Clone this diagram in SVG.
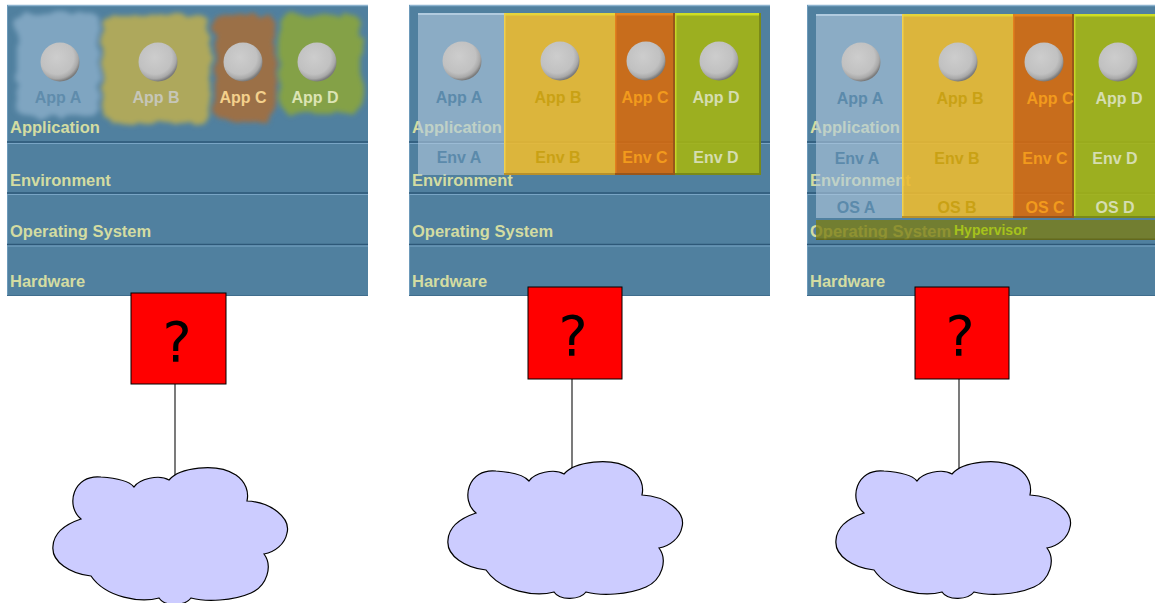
<svg xmlns="http://www.w3.org/2000/svg" xmlns:xlink="http://www.w3.org/1999/xlink" width="1155" height="603" viewBox="0 0 1155 603">
  <style>
    .layer-label { font-family: "Liberation Sans", Arial, sans-serif; font-weight: bold; font-size: 16.5px; fill: #d3dca2; }
    .app { font-family: "Liberation Sans", Arial, sans-serif; font-weight: bold; font-size: 16px; text-anchor: middle; }
    .hv { font-family: "Liberation Sans", Arial, sans-serif; font-weight: bold; font-size: 14px; fill: #a6c21c; }
    .qmark { font-family: "DejaVu Sans", sans-serif; font-weight: normal; font-size: 55px; text-anchor: middle; fill: #000; }
    .qbox { fill: #ff0000; stroke: #000; stroke-width: 1; }
    .cloud { fill: #ccccff; stroke: #000; stroke-width: 1.2; }
    .link { stroke: #222; stroke-width: 1.2; fill: none; }
    .tA { fill: #5b8aab; }
    .tB { fill: #c9a114; }
    .tC { fill: #f29a1c; }
    .tD { fill: #d5ddb0; }
    .colA { fill: #b3cadf; opacity: 0.6; }
    .colB { fill: #ebba31; opacity: 0.9; }
    .colC { fill: #d56a0d; opacity: 0.9; }
    .colD { fill: #a4b412; opacity: 0.9; }
  </style>
  <defs>
    <radialGradient id="knob" cx="0.42" cy="0.38" r="0.62">
      <stop offset="0" stop-color="#cdcdcd"/>
      <stop offset="0.7" stop-color="#c1c1c1"/>
      <stop offset="0.88" stop-color="#a9a9a9"/>
      <stop offset="1" stop-color="#7a7a7a"/>
    </radialGradient>
    <filter id="smudge" x="-20%" y="-20%" width="140%" height="140%">
      <feTurbulence type="fractalNoise" baseFrequency="0.06" numOctaves="2" seed="3" result="n"/>
      <feDisplacementMap in="SourceGraphic" in2="n" scale="12" xChannelSelector="R" yChannelSelector="G" result="d"/>
      <feGaussianBlur in="d" stdDeviation="2.5"/>
    </filter>
    <clipPath id="clip-s3-c"><rect x="1013" y="14" width="61" height="204"/></clipPath>
    <!-- four-layer stack: application / environment / OS / hardware -->
    <g id="stack">
      <rect x="0" y="5" width="361" height="291" fill="#50809f"/>
      <line x1="0" y1="5.5" x2="361" y2="5.5" stroke="#8db3cf" stroke-width="1.5"/>
      <line x1="0.5" y1="5" x2="0.5" y2="296" stroke="#6d9aba" stroke-width="1"/>
      <line x1="0" y1="142" x2="361" y2="142" stroke="#2d5878" stroke-width="1.6"/>
      <line x1="0" y1="143.5" x2="361" y2="143.5" stroke="#79a5c5" stroke-width="1"/>
      <line x1="0" y1="193" x2="361" y2="193" stroke="#2d5878" stroke-width="1.6"/>
      <line x1="0" y1="194.5" x2="361" y2="194.5" stroke="#79a5c5" stroke-width="1"/>
      <line x1="0" y1="244.5" x2="361" y2="244.5" stroke="#2d5878" stroke-width="1.6"/>
      <line x1="0" y1="246" x2="361" y2="246" stroke="#79a5c5" stroke-width="1"/>
      <line x1="0" y1="295.5" x2="361" y2="295.5" stroke="#3f6d8d" stroke-width="1"/>
      <text class="layer-label" x="3" y="133">Application</text>
      <text class="layer-label" x="3" y="186">Environment</text>
      <text class="layer-label" x="3" y="237">Operating System</text>
      <text class="layer-label" x="3" y="287">Hardware</text>
    </g>
    <circle id="app-knob" r="19.5" fill="url(#knob)"/>
    <path id="cloud-shape" d="M 30 53 C 14 40, 22 8, 50 11 C 66 12, 78 15, 83 21 C 88 13, 108 8, 118 14 C 128 2, 165 -4, 185 9 C 195 16, 198 26, 196 35 C 220 36, 240 52, 236 67 C 234 78, 224 86, 213 88 C 222 100, 216 120, 200 127 C 182 135, 155 136, 140 132 C 134 140, 114 141, 108 132 C 90 137, 55 132, 40 110 C 20 108, 0 96, 2 80 C 3 65, 18 57, 30 53 Z"/>
  </defs>

  <rect width="1155" height="603" fill="#ffffff"/>

  <!-- connectors: box to network cloud -->
  <g id="connectors">
    <line class="link" x1="175" y1="384" x2="175" y2="479"/>
    <line class="link" x1="572" y1="379" x2="572" y2="473"/>
    <line class="link" x1="959" y1="379" x2="959" y2="473" stroke="#777"/>
  </g>

  <!-- ===== Stack 1: shared environment ===== -->
  <g id="stack-1">
    <use xlink:href="#stack" x="7"/>
    <g filter="url(#smudge)">
      <rect x="17" y="13" width="82" height="103" rx="10" fill="#7fa5c1"/>
      <rect x="103" y="15" width="107" height="108" rx="12" fill="#aea85c"/>
      <rect x="215" y="15" width="60" height="106" rx="10" fill="#9b7047"/>
      <rect x="279" y="15" width="83" height="98" rx="12" fill="#84a146"/>
    </g>
    <g id="s1-app-a"><use xlink:href="#app-knob" x="60" y="62"/><text class="app" x="58" y="103" fill="#5f8cac">App A</text></g>
    <g id="s1-app-b"><use xlink:href="#app-knob" x="158" y="62"/><text class="app" x="156" y="103" fill="#c6c6b8">App B</text></g>
    <g id="s1-app-c"><use xlink:href="#app-knob" x="243" y="62"/><text class="app" x="243" y="103" fill="#f4d08c">App C</text></g>
    <g id="s1-app-d"><use xlink:href="#app-knob" x="317" y="62"/><text class="app" x="315" y="103" fill="#dce4b4">App D</text></g>
  </g>
  <g id="box-1">
    <rect class="qbox" x="131" y="293" width="95" height="91"/>
    <text class="qmark" x="177" y="361">?</text>
  </g>
  <g id="cloud-1"><use xlink:href="#cloud-shape" class="cloud" x="51" y="466"/></g>

  <!-- ===== Stack 2: per-app environments ===== -->
  <g id="stack-2">
    <use xlink:href="#stack" x="409"/>
    <g id="s2-col-a">
      <rect class="colA" x="418" y="13" width="86" height="162"/>
      <rect x="418" y="13" width="86" height="2" fill="#c2d8ea" opacity="0.7"/>
      <use xlink:href="#app-knob" x="462" y="61"/>
      <text class="app tA" x="459" y="103">App A</text>
      <text class="app tA" x="459" y="163">Env A</text>
    </g>
    <g id="s2-col-b">
      <rect class="colB" x="504" y="13" width="111" height="162"/>
      <rect x="504" y="13" width="111" height="2.5" fill="#e6d43a"/>
      <rect x="504" y="13" width="1.5" height="162" fill="#f0d050"/>
      <rect x="504" y="173" width="111" height="2" fill="#b8902a"/>
      <use xlink:href="#app-knob" x="560" y="61"/>
      <text class="app tB" x="558" y="103">App B</text>
      <text class="app tB" x="558" y="163">Env B</text>
    </g>
    <g id="s2-col-c">
      <rect class="colC" x="615" y="13" width="60" height="162"/>
      <rect x="615" y="13" width="60" height="2.5" fill="#e48420"/>
      <rect x="615" y="13" width="1.5" height="162" fill="#e2801e"/>
      <rect x="673" y="13" width="2" height="162" fill="#98561a"/>
      <rect x="615" y="173" width="60" height="2" fill="#9a561a"/>
      <use xlink:href="#app-knob" x="646" y="61"/>
      <text class="app tC" x="645" y="103">App C</text>
      <text class="app tC" x="645" y="163">Env C</text>
    </g>
    <g id="s2-col-d">
      <rect class="colD" x="675" y="13" width="86" height="162"/>
      <rect x="675" y="13" width="86" height="2.5" fill="#cede24"/>
      <rect x="675" y="13" width="1.5" height="162" fill="#c6d628"/>
      <rect x="759" y="13" width="2" height="162" fill="#7a8a18"/>
      <rect x="675" y="173" width="86" height="2" fill="#7a8a18"/>
      <use xlink:href="#app-knob" x="719" y="61"/>
      <text class="app tD" x="716" y="103">App D</text>
      <text class="app tD" x="716" y="163">Env D</text>
    </g>
  </g>
  <g id="box-2">
    <rect class="qbox" x="528" y="287" width="94" height="92"/>
    <text class="qmark" x="573" y="355">?</text>
  </g>
  <g id="cloud-2"><use xlink:href="#cloud-shape" class="cloud" x="446" y="460"/></g>

  <!-- ===== Stack 3: virtual machines on a hypervisor ===== -->
  <g id="stack-3">
    <use xlink:href="#stack" x="807"/>
    <g id="s3-col-a">
      <rect class="colA" x="816" y="14" width="86" height="204"/>
      <rect x="816" y="14" width="86" height="2" fill="#c2d8ea" opacity="0.7"/>
      <use xlink:href="#app-knob" x="861" y="62"/>
      <text class="app tA" x="860" y="104">App A</text>
      <text class="app tA" x="857" y="164">Env A</text>
      <text class="app tA" x="856" y="213">OS A</text>
    </g>
    <g id="s3-col-b">
      <rect class="colB" x="902" y="14" width="111" height="204" opacity="0.86"/>
      <rect x="902" y="14" width="111" height="2.5" fill="#e6d43a"/>
      <rect x="902" y="14" width="1.5" height="204" fill="#f0d050"/>
      <rect x="902" y="216" width="111" height="2" fill="#b8902a"/>
      <use xlink:href="#app-knob" x="958" y="62"/>
      <text class="app tB" x="960" y="104">App B</text>
      <text class="app tB" x="957" y="164">Env B</text>
      <text class="app tB" x="957" y="213">OS B</text>
    </g>
    <g id="s3-col-c">
      <rect class="colC" x="1013" y="14" width="61" height="204"/>
      <rect x="1013" y="14" width="61" height="2.5" fill="#e48420"/>
      <rect x="1013" y="14" width="1.5" height="204" fill="#e2801e"/>
      <rect x="1072" y="14" width="2" height="204" fill="#98561a"/>
      <rect x="1013" y="216" width="61" height="2" fill="#9a561a"/>
      <use xlink:href="#app-knob" x="1044" y="62"/>
      <g clip-path="url(#clip-s3-c)">
        <text class="app tC" x="1050" y="104">App C</text>
        <text class="app tC" x="1045" y="164">Env C</text>
        <text class="app tC" x="1045" y="213">OS C</text>
      </g>
    </g>
    <g id="s3-col-d">
      <rect class="colD" x="1074" y="14" width="90" height="204"/>
      <rect x="1074" y="14" width="90" height="2.5" fill="#cede24"/>
      <rect x="1074" y="14" width="1.5" height="204" fill="#c6d628"/>
      <rect x="1074" y="216" width="90" height="2" fill="#7a8a18"/>
      <use xlink:href="#app-knob" x="1118" y="62"/>
      <text class="app tD" x="1119" y="104">App D</text>
      <text class="app tD" x="1115" y="164">Env D</text>
      <text class="app tD" x="1115" y="213">OS D</text>
    </g>
    <g id="s3-hypervisor">
      <rect x="816" y="220" width="350" height="20" fill="#7c7e12" opacity="0.78"/>
      <rect x="816" y="238.5" width="350" height="1.5" fill="#5a5c10" opacity="0.6"/>
      <text class="hv" x="954" y="235">Hypervisor</text>
    </g>
  </g>
  <g id="box-3">
    <rect class="qbox" x="915" y="287" width="94" height="92"/>
    <text class="qmark" x="960" y="355">?</text>
  </g>
  <g id="cloud-3"><use xlink:href="#cloud-shape" class="cloud" x="834" y="460"/></g>
</svg>
